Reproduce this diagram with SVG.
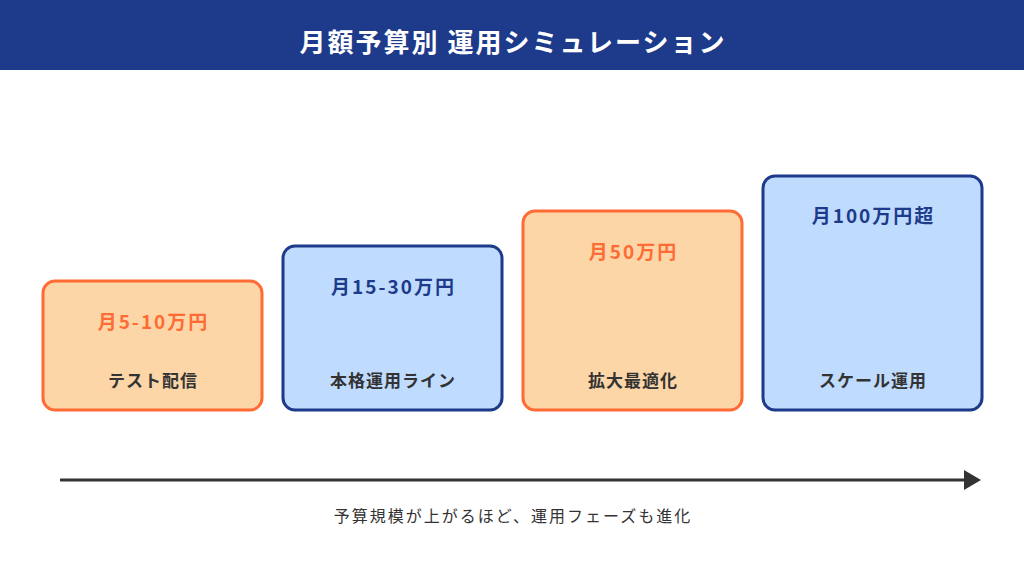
<svg xmlns="http://www.w3.org/2000/svg" width="1024" height="576" viewBox="0 0 1024 576">
<style>
text{font-family:"Noto Sans CJK JP","Noto Sans",sans-serif;text-anchor:middle}
.title{font-size:26px;font-weight:700;fill:#fff;letter-spacing:2px}
.o{fill:#FDD6A8;stroke:#FF6B35;stroke-width:3}
.b{fill:#BFDBFE;stroke:#1E3A8A;stroke-width:3}
.ot{font-size:19px;font-weight:700;fill:#FF6B35;letter-spacing:2px}
.bt{font-size:19px;font-weight:700;fill:#1E3A8A;letter-spacing:2px}
.lb{font-size:17px;font-weight:700;fill:#333;letter-spacing:1px}
.cap{font-size:16px;fill:#333;letter-spacing:2px}
</style>
<rect width="1024" height="576" fill="#fff"/>
<rect width="1024" height="70" fill="#1E3A8A"/>
<text class="title" x="513" y="52">月額予算別 運用シミュレーション</text>
<g id="node1">
<rect class="o" x="43" y="281" width="219" height="129" rx="12"/>
<text class="ot" x="153.5" y="329">月5-10万円</text>
<text class="lb" x="153" y="387">テスト配信</text>
</g>
<g id="node2">
<rect class="b" x="283" y="246" width="219" height="164" rx="12"/>
<text class="bt" x="393.5" y="294">月15-30万円</text>
<text class="lb" x="393" y="387">本格運用ライン</text>
</g>
<g id="node3">
<rect class="o" x="523" y="211" width="219" height="199" rx="12"/>
<text class="ot" x="633.5" y="259">月50万円</text>
<text class="lb" x="633" y="387">拡大最適化</text>
</g>
<g id="node4">
<rect class="b" x="763" y="176" width="219" height="234" rx="12"/>
<text class="bt" x="873.5" y="223">月100万円超</text>
<text class="lb" x="873" y="387">スケール運用</text>
</g>
<g id="connectors">
<line x1="60" y1="480" x2="966" y2="480" stroke="#333" stroke-width="3"/>
<path d="M964,470 L981,480 L964,490 z" fill="#333"/>
</g>
<text class="cap" x="513" y="522">予算規模が上がるほど、運用フェーズも進化</text>
</svg>
